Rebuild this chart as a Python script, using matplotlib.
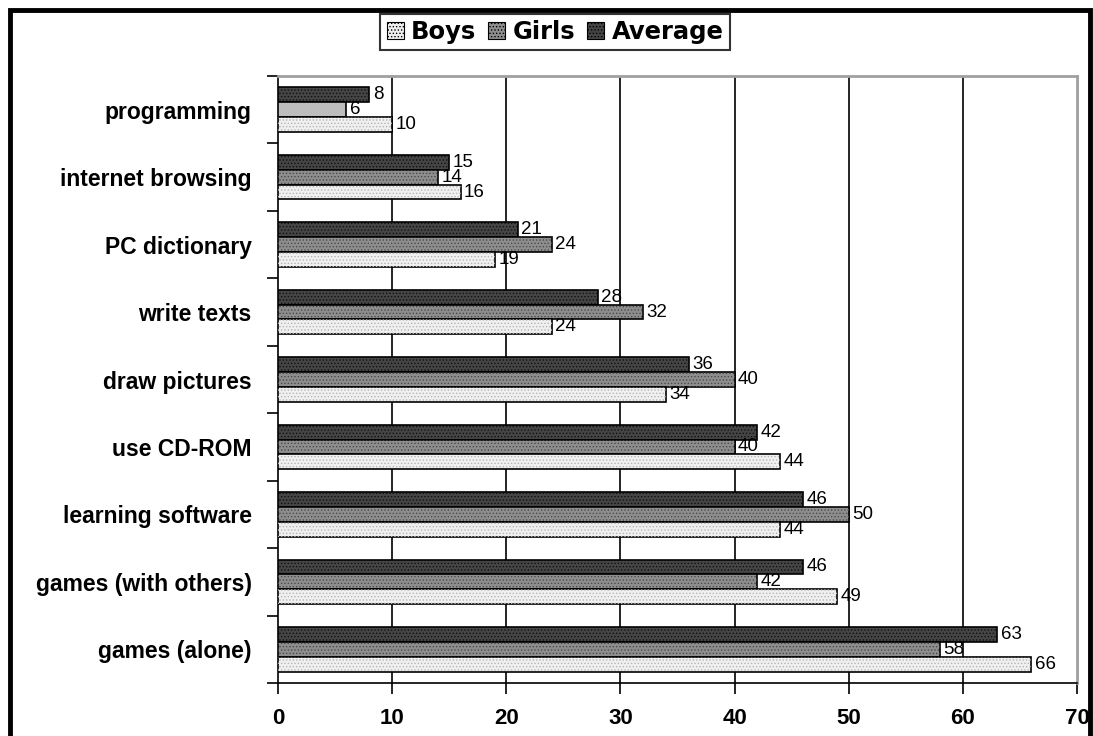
import numpy as np
import matplotlib.pyplot as plt
from matplotlib.patches import Rectangle

# data (top to bottom)
activities = ['programming', 'internet browsing', 'PC dictionary', 'write texts',
              'draw pictures', 'use CD-ROM', 'learning software',
              'games (with others)', 'games (alone)']
boys = [10, 16, 19, 24, 34, 44, 44, 49, 66]
girls = [6, 14, 24, 32, 40, 40, 50, 42, 58]
average = [8, 15, 21, 28, 36, 42, 46, 46, 63]

plt.rcParams['hatch.linewidth'] = 0.6

fig = plt.figure(figsize=(10.93, 7.36), dpi=100)
ax = fig.add_axes([278/1093, 1-683/736, (1077-278)/1093, (683-76)/736])

y = np.arange(len(activities))
h = 0.22

# series: (values, offset, fill colour, dot colour)
series = [(average, -h, '#454545', '#111111'),
          (girls, 0, '#8e8e8e', '#4a4a4a'),
          (boys, h, '#f0f0f0', '#b5b5b5')]

for vals, off, fc, dc in series:
    colors = [fc]*len(vals)
    if vals is girls:
        colors[0] = '#bdbdbd'  # programming bar is plain light grey in the original
    ax.barh(y + off, vals, height=h, color=colors, edgecolor='black', linewidth=1.2, zorder=3)
    hatch_vals = list(vals)
    if vals is girls:
        hatch_vals[0] = 0
    ax.barh(y + off, hatch_vals, height=h, fill=False, hatch='.....', edgecolor=dc,
            linewidth=0, zorder=3)
    for yi, v in zip(y + off, vals):
        ax.text(v + 0.3, yi, str(v), va='center', ha='left', fontsize=13.5,
                family='Liberation Sans', zorder=4)

ax.set_xlim(0, 70)
ax.set_ylim(len(activities) - 0.5, -0.5)
ax.set_xticks(np.arange(0, 71, 10))
ax.set_xticklabels([str(t) for t in range(0, 71, 10)], fontsize=16,
                   fontweight='bold', family='Liberation Sans')
ax.set_yticks(y)
ax.set_yticklabels(activities, fontsize=16.5, fontweight='bold', family='Liberation Sans')
ax.set_yticks(np.arange(-0.5, len(activities)), minor=True)
ax.tick_params(axis='y', which='major', length=0, pad=19)
ax.tick_params(axis='y', which='minor', length=8, width=1.2, direction='out')
ax.tick_params(axis='x', length=8, width=1.2, direction='out', pad=10)

for xv in range(10, 70, 10):
    ax.axvline(xv, color='black', linewidth=1.2, zorder=1)

ax.spines['left'].set_linewidth(1.2)
ax.spines['bottom'].set_linewidth(1.2)
ax.spines['top'].set_color('#a0a0a0')
ax.spines['right'].set_color('#a0a0a0')
ax.spines['top'].set_linewidth(2)
ax.spines['right'].set_linewidth(2)

# legend
handles = [Rectangle((0, 0), 1, 1, facecolor=c, edgecolor='black', hatch='.....', linewidth=0.8)
           for c in ['#f0f0f0', '#8e8e8e', '#454545']]
leg = fig.legend(handles, ['Boys', 'Girls', 'Average'], ncol=3, loc='center',
                 bbox_to_anchor=(555/1093, 1-32/736), frameon=True, fancybox=False,
                 handlelength=0.7, handleheight=0.7, handletextpad=0.3,
                 columnspacing=0.5, borderpad=0.25,
                 prop={'family': 'DejaVu Sans', 'weight': 'bold', 'size': 17.5})
leg.get_frame().set_edgecolor('black')
leg.get_frame().set_linewidth(1.5)

# outer border
fig.patches.append(Rectangle((10/1093, -0.05), (1090-10)/1093, 1.05 - 10/736,
                             transform=fig.transFigure, fill=False,
                             edgecolor='black', linewidth=3.5))

fig.savefig('out.png', dpi=100)
